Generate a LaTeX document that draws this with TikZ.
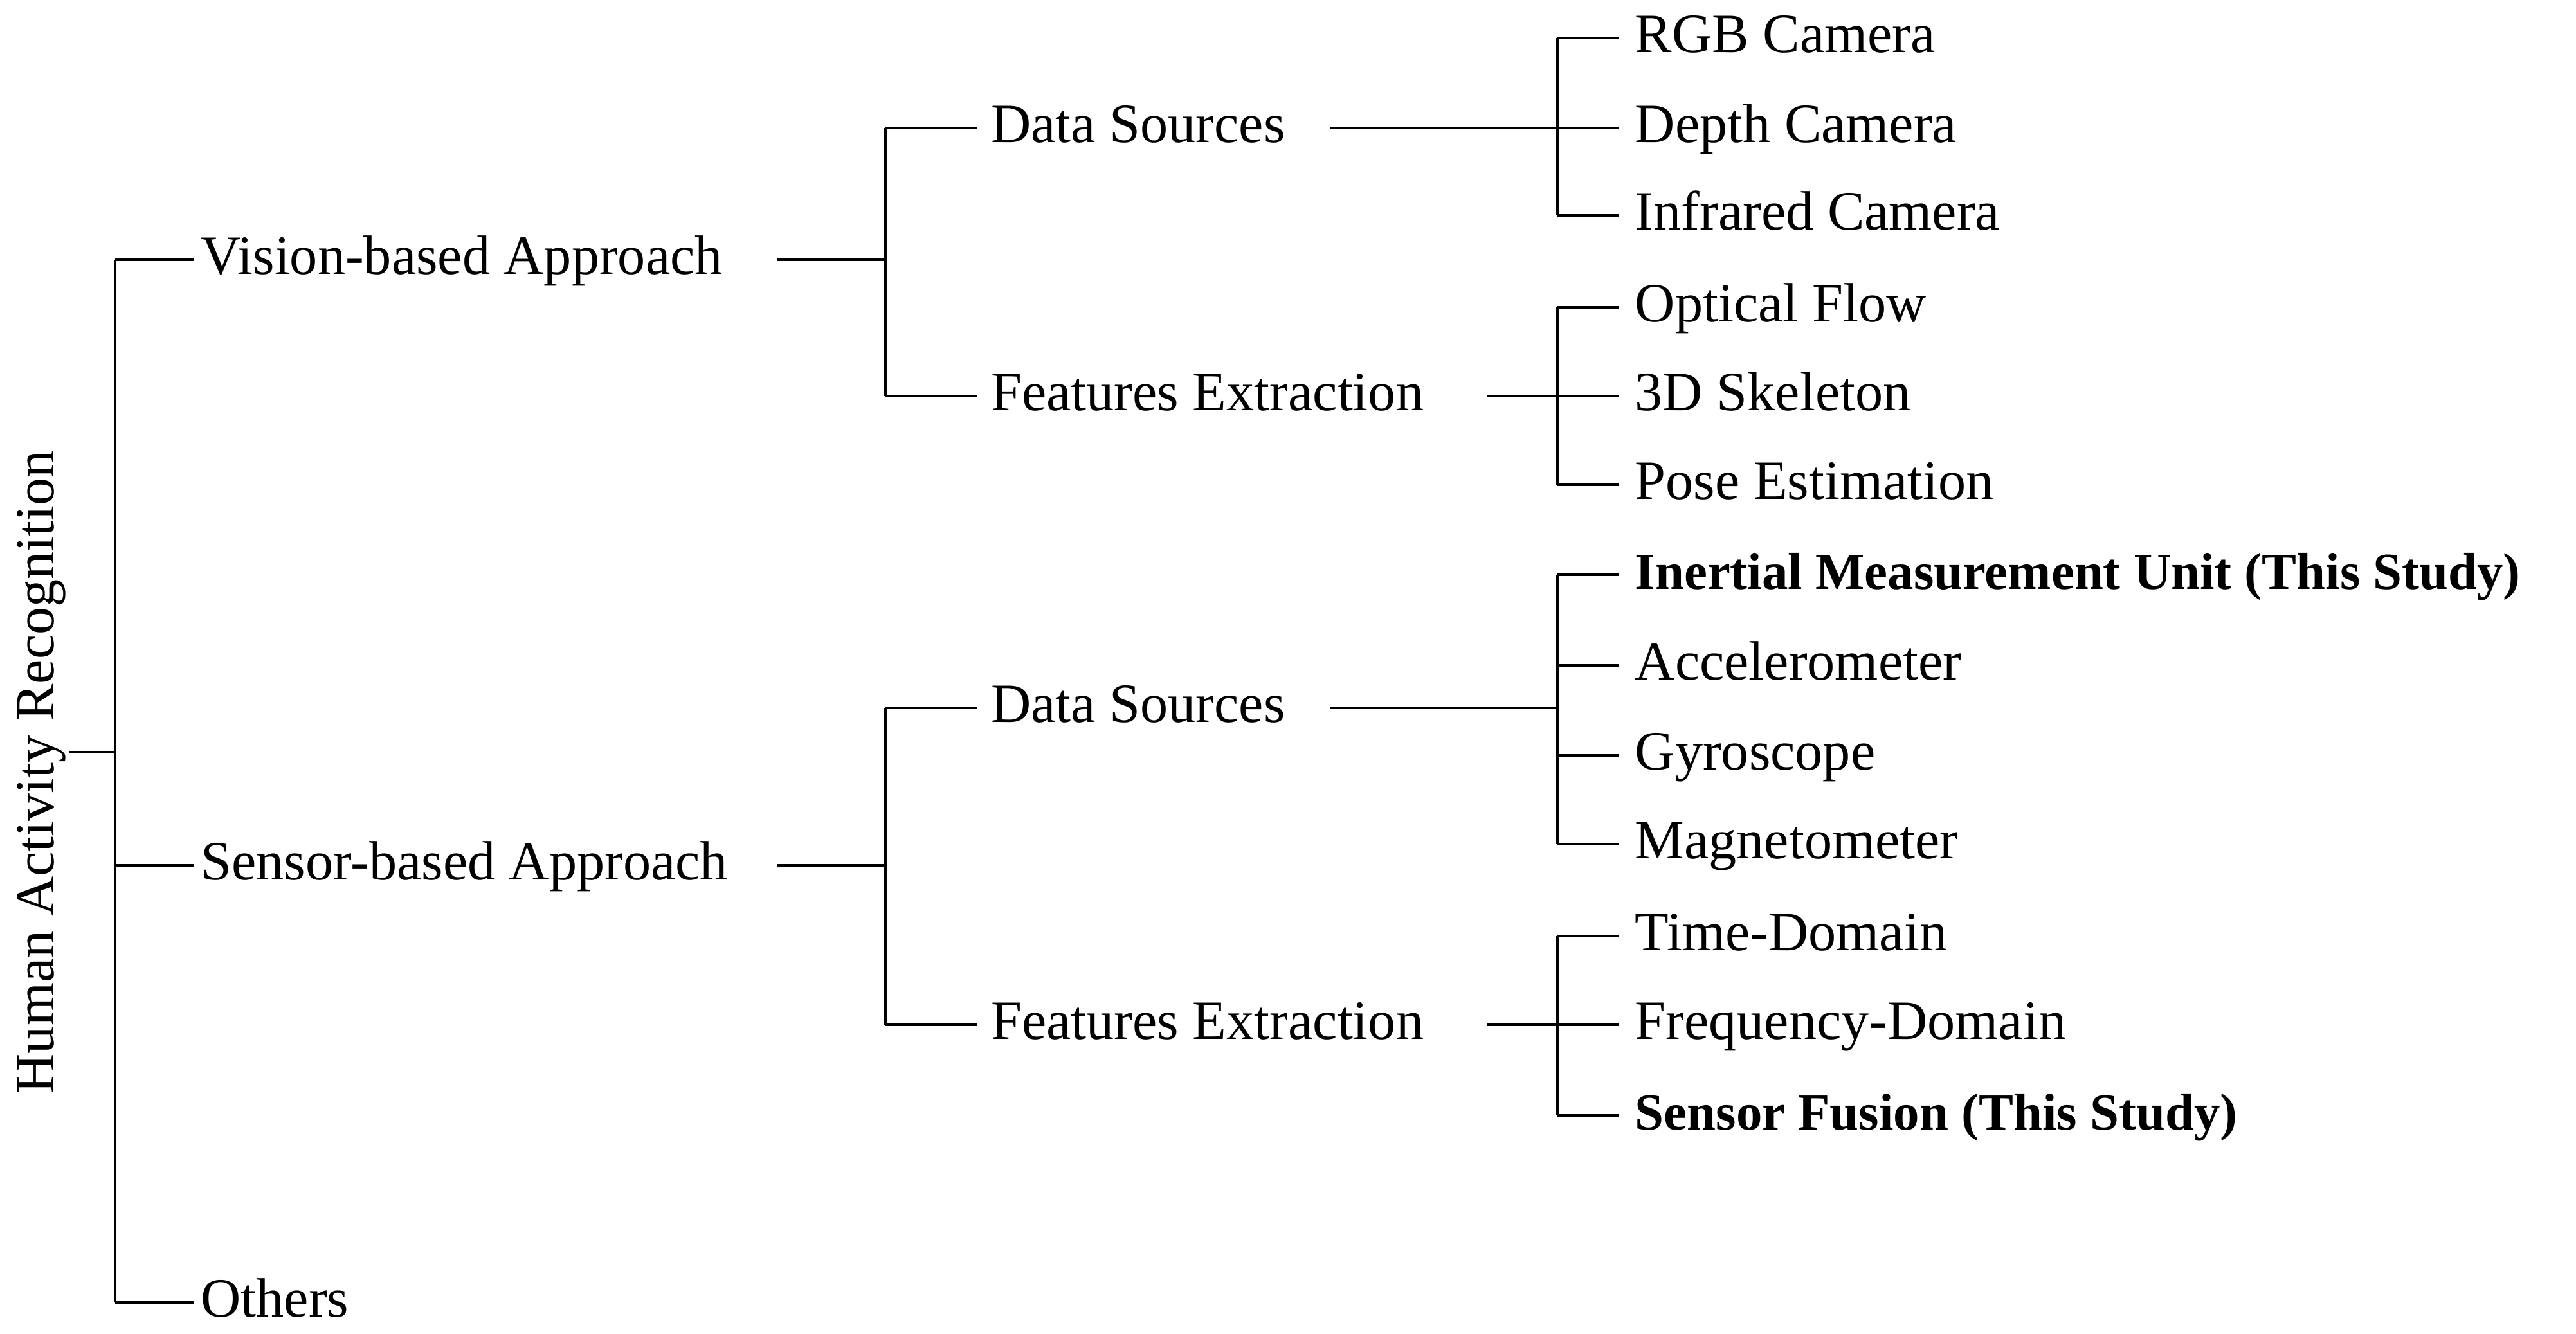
\documentclass[tikz,border=0pt]{standalone}
\usepackage{fontspec}
\setmainfont{Liberation Serif}
\usetikzlibrary{positioning}
\tikzset{
  lbl/.style={anchor=base west, inner sep=0pt, yshift=-0.22cm, font=\fontsize{24}{30}\selectfont},
  blbl/.style={lbl, font=\fontsize{22.5}{30}\selectfont\bfseries},
  branch/.style={line width=1.1pt}
}
\begin{document}
\begin{tikzpicture}[x=0.025cm, y=-0.025cm]
\useasboundingbox (0,0) rectangle (1568,812);

% root
\node (har) [font=\fontsize{24}{30}\selectfont, rotate=90, inner sep=0pt] at (25,470) {Human Activity Recognition};
\coordinate (root) at (70,458);
\coordinate (rtop) at (70,158);
\coordinate (rbot) at (70,793);

% level 1
\node (vis) [lbl] at (122,158) {Vision-based Approach};
\node (sen) [lbl] at (122,527) {Sensor-based Approach};
\node (oth) [lbl] at (122,793) {Others};

% level 2
\node (vds) [lbl] at (603,78) {Data Sources};
\node (vfe) [lbl] at (603,241) {Features Extraction};
\node (sds) [lbl] at (603,431) {Data Sources};
\node (sfe) [lbl] at (603,624) {Features Extraction};

% leaves
\node (rgb) [lbl] at (995,23) {RGB Camera};
\node (dep) [lbl] at (995,78) {Depth Camera};
\node (inf) [lbl] at (995,131) {Infrared Camera};
\node (opt) [lbl] at (995,187) {Optical Flow};
\node (ske) [lbl] at (995,241) {3D Skeleton};
\node (pos) [lbl] at (995,295) {Pose Estimation};
\node (imu) [blbl] at (995,350) {Inertial Measurement Unit (This Study)};
\node (acc) [lbl] at (995,405) {Accelerometer};
\node (gyr) [lbl] at (995,460) {Gyroscope};
\node (mag) [lbl] at (995,514) {Magnetometer};
\node (tim) [lbl] at (995,570) {Time-Domain};
\node (fre) [lbl] at (995,624) {Frequency-Domain};
\node (fus) [blbl] at (995,679) {Sensor Fusion (This Study)};

% junctions
\coordinate (vj) at (539,158);
\coordinate (sj) at (539,527);
\coordinate (vdsj) at (948,78);
\coordinate (vfej) at (948,241);
\coordinate (sdsj) at (948,431);
\coordinate (sfej) at (948,624);
\coordinate (vjs) at (473,158);
\coordinate (sjs) at (473,527);

% connectors
\draw [branch] (42,458) -- (root);
\draw [branch] (rtop) -- (rbot);
\foreach \n/\y in {vis/158, sen/527, oth/793}
  \draw [branch] (70,\y) -- (118,\y);

\draw [branch] (vjs) -- (vj);
\draw [branch] (sjs) -- (sj);
\draw [branch] (539,78) -- (539,241);
\draw [branch] (539,431) -- (539,624);
\foreach \y in {78, 241, 431, 624}
  \draw [branch] (539,\y) -- (595,\y);

\draw [branch] (810,78) -- (vdsj);
\draw [branch] (905,241) -- (vfej);
\draw [branch] (810,431) -- (sdsj);
\draw [branch] (905,624) -- (sfej);

\draw [branch] (948,23) -- (948,131);
\draw [branch] (948,187) -- (948,295);
\draw [branch] (948,350) -- (948,514);
\draw [branch] (948,570) -- (948,679);
\foreach \y in {23, 78, 131, 187, 241, 295, 350, 405, 460, 514, 570, 624, 679}
  \draw [branch] (948,\y) -- (985,\y);
\end{tikzpicture}
\end{document}
